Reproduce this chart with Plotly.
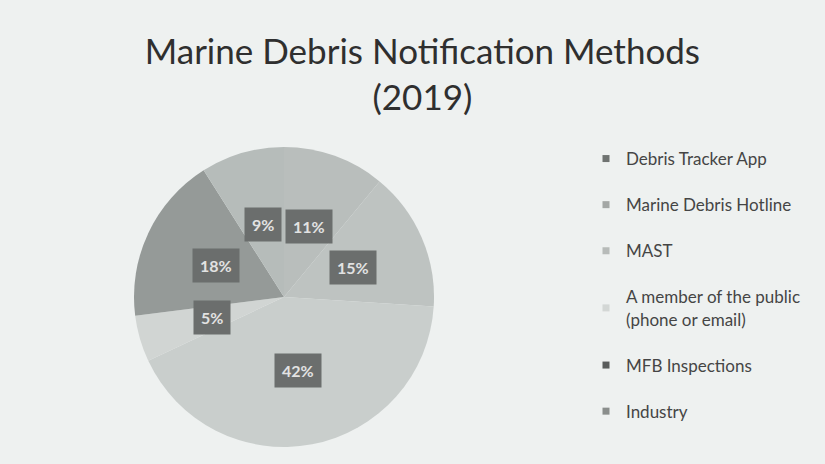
import math
import plotly.graph_objects as go

labels = ["Debris Tracker App", "Marine Debris Hotline", "MAST",
          "A member of the public<br>(phone or email)", "MFB Inspections", "Industry"]
values = [11, 15, 42, 5, 18, 9]
slice_colors = ["#b9bebc", "#bec3c1", "#c9cecc", "#d1d5d3", "#959a98", "#b6bcba"]
legend_colors = ["#6f7371", "#a3a7a5", "#b7bbb9", "#d3d7d5", "#5a5d5c", "#8a8e8c"]

W, H = 825, 464
cx_px, cy_px, r_px = 284, 297, 150
dom_x = [(cx_px - r_px) / W, (cx_px + r_px) / W]
dom_y = [(H - cy_px - r_px) / H, (H - cy_px + r_px) / H]

fig = go.Figure()
fig.add_trace(go.Pie(
    labels=labels, values=values, sort=False, direction="clockwise", rotation=0,
    marker=dict(colors=slice_colors, line=dict(width=0)),
    textinfo="none", hoverinfo="label+percent", showlegend=False,
    domain=dict(x=dom_x, y=dom_y),
))

# legend via placeholder traces (one group per entry so spacing can be set)
for lab, col in zip(labels, legend_colors):
    fig.add_trace(go.Scatter(
        x=[None], y=[None], mode="markers", name=lab, legendgroup=lab,
        marker=dict(symbol="square", size=7, color=col),
    ))

# percentage labels in dark boxes, placed at mid-angle of each slice
total = sum(values)
cx = (dom_x[0] + dom_x[1]) / 2
cy = (dom_y[0] + dom_y[1]) / 2
rx = (dom_x[1] - dom_x[0]) / 2
ry = (dom_y[1] - dom_y[0]) / 2
cum = 0
annotations = []
for v in values:
    mid = (cum + v / 2) / total * 2 * math.pi
    cum += v
    annotations.append(dict(
        x=cx + 0.5 * rx * math.sin(mid), y=cy + 0.5 * ry * math.cos(mid),
        xref="paper", yref="paper", xanchor="center", yanchor="middle",
        showarrow=False,
        text=f"<b>{round(v / total * 100)}%</b>",
        font=dict(family="Lato", size=16, color="#e2e2e2"),
        bgcolor="#6b6e6d", borderpad=7,
    ))

fig.update_layout(
    width=W, height=H,
    paper_bgcolor="#eef1f0", plot_bgcolor="#eef1f0",
    margin=dict(l=0, r=0, t=0, b=0),
    title=dict(text="Marine Debris Notification Methods<br>(2019)",
               x=0.512, xanchor="center", y=1 - 64 / H, yanchor="top",
               font=dict(family="Lato", size=35, color="#2f2f2f")),
    xaxis=dict(visible=False, domain=[0.99, 1]),
    yaxis=dict(visible=False, domain=[0.99, 1]),
    legend=dict(x=586 / W, xanchor="left", y=1 - 141 / H, yanchor="top",
                font=dict(family="Lato", size=17, color="#454545"),
                bgcolor="rgba(0,0,0,0)", tracegroupgap=21,
                itemclick=False, itemdoubleclick=False),
    annotations=annotations,
)

fig.write_html("out.html")
